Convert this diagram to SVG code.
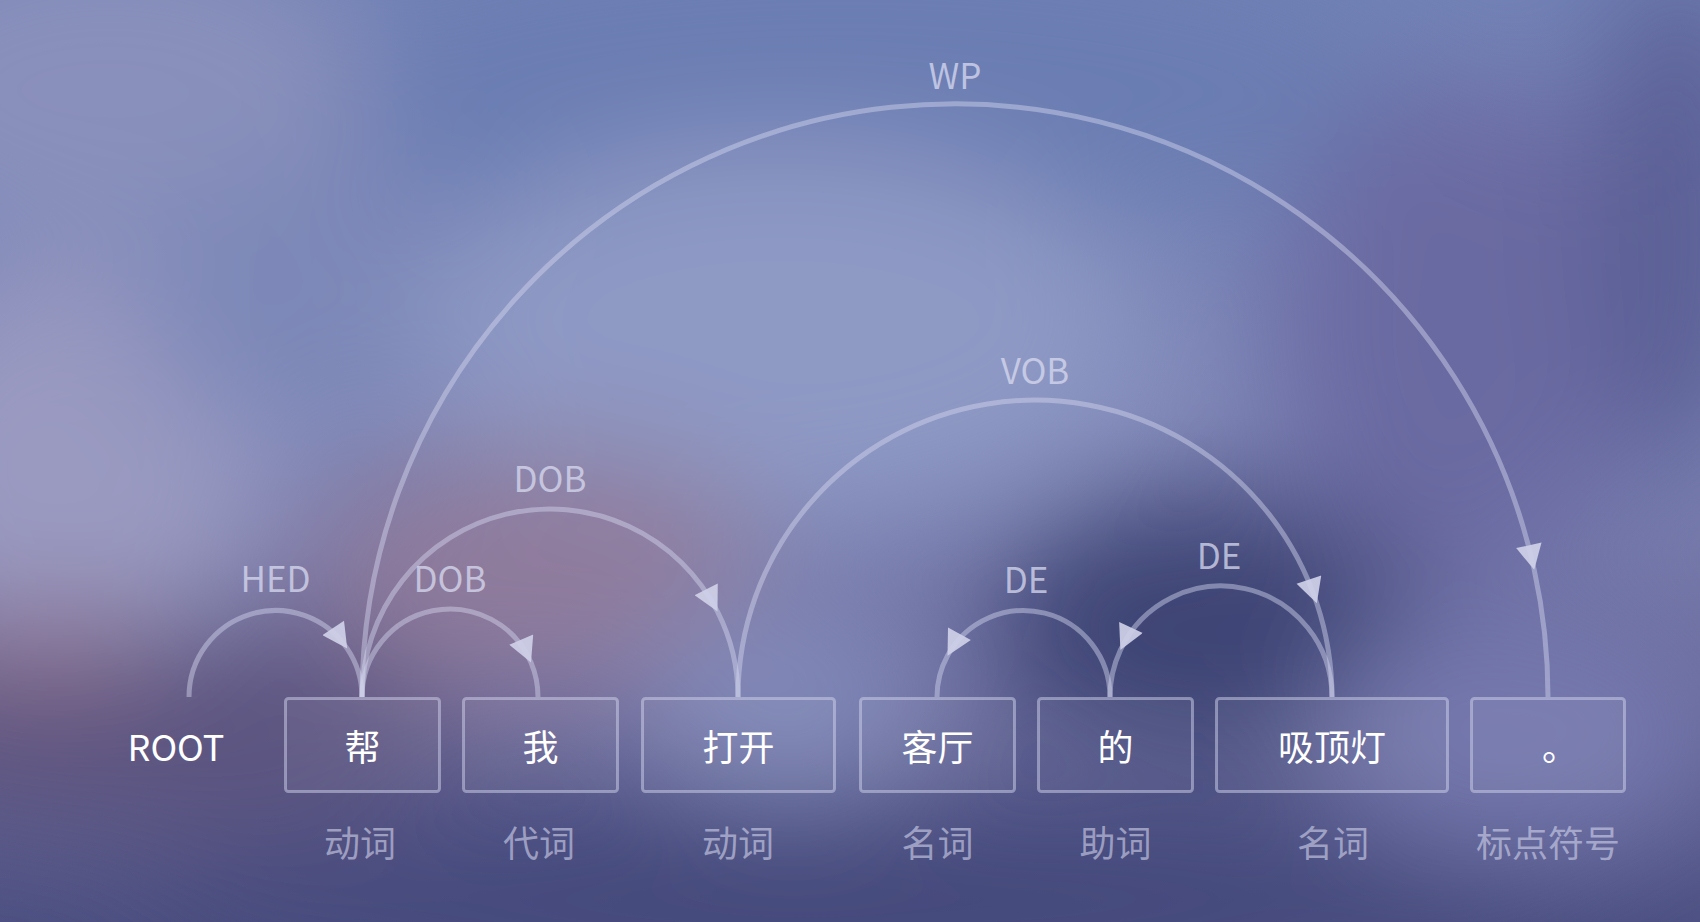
<svg xmlns="http://www.w3.org/2000/svg" width="1700" height="922" viewBox="0 0 1700 922">
  <defs>
    <linearGradient id="bgBase" x1="0" y1="0" x2="0" y2="1">
      <stop offset="0" stop-color="#7282b6"/>
      <stop offset="0.45" stop-color="#8088b8"/>
      <stop offset="0.75" stop-color="#6a6a9c"/>
      <stop offset="1" stop-color="#4c5082"/>
    </linearGradient>
    <filter id="soft" x="-30%" y="-30%" width="160%" height="160%">
      <feGaussianBlur stdDeviation="60"/>
    </filter>
    <marker id="ah" markerUnits="userSpaceOnUse" markerWidth="26" markerHeight="26" viewBox="0 0 24 25" refX="24" refY="12.5" orient="auto">
      <path d="M0,0 L24,12.5 L0,25 Z" fill="#cfd0e8" fill-opacity="0.92"/>
    </marker>
    <style>
      .arc { fill: none; stroke: #d4d6ef; stroke-opacity: 0.45; stroke-width: 5; marker-mid: url(#ah); }
      .box { fill: #ffffff; fill-opacity: 0.05; stroke: #cfd1ec; stroke-opacity: 0.5; stroke-width: 3; }
      .word { font-family: "Noto Sans CJK SC", "Noto Sans", sans-serif; font-size: 36px; fill: #ffffff; text-anchor: middle; }
      .pos { font-family: "Noto Sans CJK SC", "Noto Sans", sans-serif; font-size: 36px; fill: #d2d4ec; fill-opacity: 0.6; text-anchor: middle; }
      .rel { font-family: "Noto Sans CJK SC", "Noto Sans", sans-serif; font-size: 35px; fill: #d8daf0; fill-opacity: 0.75; text-anchor: middle; }
    </style>
  </defs>

  <!-- background -->
  <rect x="0" y="0" width="1700" height="922" fill="url(#bgBase)"/>
  <g filter="url(#soft)">
    <ellipse cx="850" cy="90" rx="560" ry="150" fill="#6a7db2"/>
    <ellipse cx="110" cy="90" rx="260" ry="160" fill="#8990bb"/>
    <ellipse cx="70" cy="470" rx="200" ry="200" fill="#9a9ac1"/>
    <ellipse cx="300" cy="300" rx="160" ry="140" fill="#7d88b8"/>
    <ellipse cx="780" cy="330" rx="360" ry="190" fill="#8e99c4"/>
    <ellipse cx="540" cy="570" rx="230" ry="120" fill="#8f7b9c"/>
    <ellipse cx="140" cy="730" rx="320" ry="110" fill="#5c5480"/>
    <ellipse cx="40" cy="650" rx="120" ry="40" fill="#8a6c8a"/>
    <ellipse cx="1210" cy="630" rx="220" ry="130" fill="#3e4475"/>
    <ellipse cx="1460" cy="330" rx="190" ry="250" fill="#6b6ba2"/>
    <ellipse cx="1680" cy="220" rx="90" ry="260" fill="#5a5e94"/>
    <ellipse cx="850" cy="900" rx="720" ry="80" fill="#454a7b"/>
    <ellipse cx="1520" cy="730" rx="200" ry="120" fill="#7478ad"/>
    <ellipse cx="790" cy="690" rx="150" ry="100" fill="#8088b8"/>
  </g>

  <!-- connectors -->
  <g id="connectors">
    <path id="arc-hed" class="arc" d="M189,697 A86.5,86.5 0 0 1 347.2,648.6 A86.5,86.5 0 0 1 362,697"/>
    <path id="arc-dob1" class="arc" d="M362,697 A88,88 0 0 1 531,662.6 A88,88 0 0 1 538,697"/>
    <path id="arc-dob2" class="arc" d="M362,697 A188,188 0 0 1 717.5,611.6 A188,188 0 0 1 738,697"/>
    <path id="arc-wp" class="arc" d="M362,697 A593,593 0 0 1 1534.2,569.7 A593,593 0 0 1 1548,697"/>
    <path id="arc-vob" class="arc" d="M738,697 A297,297 0 0 1 1316.8,603.3 A297,297 0 0 1 1332,697"/>
    <path id="arc-de1" class="arc" d="M1110,697 A86.5,86.5 0 0 0 947.5,655.7 A86.5,86.5 0 0 0 937,697"/>
    <path id="arc-de2" class="arc" d="M1332,697 A111,111 0 0 0 1120.4,650.1 A111,111 0 0 0 1110,697"/>
    <text class="rel" x="275.5" y="592">HED</text>
    <text class="rel" x="450" y="592">DOB</text>
    <text class="rel" x="550" y="492">DOB</text>
    <text class="rel" x="955" y="89">WP</text>
    <text class="rel" x="1035" y="384">VOB</text>
    <text class="rel" x="1026" y="593">DE</text>
    <text class="rel" x="1219" y="569">DE</text>
  </g>

  <!-- nodes -->
  <g id="node-root">
    <text class="word" x="176" y="761">ROOT</text>
  </g>
  <g id="node-bang">
    <rect class="box" x="285.5" y="698.5" width="154" height="93" rx="3"/>
    <text class="word" x="362.5" y="761">帮</text>
    <text class="pos" x="360" y="857">动词</text>
  </g>
  <g id="node-wo">
    <rect class="box" x="463.5" y="698.5" width="154" height="93" rx="3"/>
    <text class="word" x="540.5" y="761">我</text>
    <text class="pos" x="539" y="857">代词</text>
  </g>
  <g id="node-dakai">
    <rect class="box" x="642.5" y="698.5" width="192" height="93" rx="3"/>
    <text class="word" x="738.5" y="761">打开</text>
    <text class="pos" x="738" y="857">动词</text>
  </g>
  <g id="node-keting">
    <rect class="box" x="860.5" y="698.5" width="154" height="93" rx="3"/>
    <text class="word" x="937.5" y="761">客厅</text>
    <text class="pos" x="937.5" y="857">名词</text>
  </g>
  <g id="node-de">
    <rect class="box" x="1038.5" y="698.5" width="154" height="93" rx="3"/>
    <text class="word" x="1115.5" y="761">的</text>
    <text class="pos" x="1115.5" y="857">助词</text>
  </g>
  <g id="node-xidingdeng">
    <rect class="box" x="1216.5" y="698.5" width="231" height="93" rx="3"/>
    <text class="word" x="1332" y="761">吸顶灯</text>
    <text class="pos" x="1333" y="857">名词</text>
  </g>
  <g id="node-period">
    <rect class="box" x="1471.5" y="698.5" width="153" height="93" rx="3"/>
    <text class="word" x="1542" y="761" style="text-anchor:start">。</text>
    <text class="pos" x="1548" y="857">标点符号</text>
  </g>
</svg>
